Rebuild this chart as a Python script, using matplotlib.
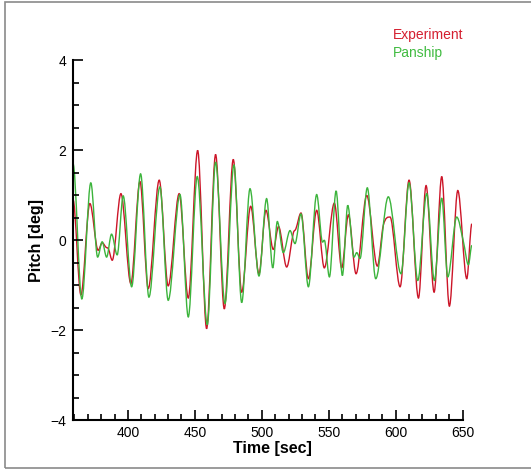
import matplotlib.pyplot as plt
from matplotlib.patches import Rectangle, PathPatch
from matplotlib.path import Path
from matplotlib.ticker import MultipleLocator

plt.rcParams['font.family'] = ['Liberation Sans', 'DejaVu Sans']

exp_t = [359.0, 364.9, 371.6, 377.8, 380.8, 383.6, 385.5, 388.3, 394.8, 402.2,
         409.0, 415.2, 423.4, 430.1, 438.3, 445.1, 452.1, 458.8, 465.5, 472.0,
         478.7, 485.0, 491.7, 497.9, 503.1, 508.6, 512.5, 518.6, 523.5, 525.5,
         529.3, 534.8, 541.0, 546.7, 554.2, 559.7, 564.7, 570.4, 578.4,
         586.3, 590.8, 595.8, 603.3, 610.0, 617.0, 622.7, 628.7, 634.4,
         640.1, 646.4, 653.1, 656.9]
exp_v = [0.9, -1.22, 0.81, -0.23, -0.06, -0.16, -0.20, -0.45, 1.03, -0.97,
         1.30, -1.08, 1.33, -1.02, 1.03, -1.29, 1.99, -1.97, 1.90, -1.53,
         1.79, -1.16, 0.75, -0.75, 0.66, -0.21, 0.30, -0.60, 0.15, 0.25,
         0.60, -0.86, 0.66, -0.62, 0.82, -0.62, 0.56, -0.75, 0.99,
         -0.58, 0.33, 0.51, -1.04, 1.33, -1.29, 1.21, -1.16, 1.41,
         -1.47, 1.10, -0.86, 0.36]

pan_t = [359.0, 365.6, 372.3, 377.4, 380.8, 384.1, 387.8, 392.0, 396.5, 402.8,
         409.5, 415.7, 423.9, 430.1, 438.9, 445.1, 451.8, 459.3, 465.5, 472.5,
         479.2, 485.0, 491.2, 497.9, 503.6, 508.2, 511.6, 516.1, 521.1, 524.8,
         529.3, 534.8, 541.0, 544.8, 547.2, 550.5, 555.5, 560.2, 564.2, 568.9,
         570.9, 573.4, 578.8, 585.1, 594.5, 604.0, 610.0, 616.5, 623.2, 628.9,
         634.4, 638.9, 645.6, 650.6, 654.3, 656.9]
pan_v = [1.7, -1.31, 1.27, -0.38, -0.04, -0.38, 0.13, -0.33, 0.98, -1.04,
         1.47, -1.27, 1.18, -1.34, 1.01, -1.71, 1.41, -1.88, 1.73, -1.41,
         1.67, -1.39, 1.14, -0.80, 0.92, -0.62, 0.41, -0.28, 0.21, -0.08,
         0.58, -1.04, 1.01, 0.0, -0.04, -0.82, 1.09, -0.79, 0.77, -0.38,
         -0.28, -0.41, 1.16, -0.86, 0.96, -0.75, 1.27, -0.90, 1.03, -0.90,
         0.93, -0.82, 0.51, -0.04, -0.55, -0.12]

red = '#cc1528'
green = '#3cb43c'


#draw a smooth curve through the read points (flat at peaks/troughs)
def smooth_path(t, v):
    n = len(t)
    slopes = []
    for i in range(n):
        if i == 0 or i == n - 1:
            slopes.append(0.0)
        elif (v[i] - v[i-1]) * (v[i+1] - v[i]) <= 0:
            slopes.append(0.0)
        else:
            slopes.append((v[i+1] - v[i-1]) / (t[i+1] - t[i-1]))
    verts = [(t[0], v[0])]
    codes = [Path.MOVETO]
    for i in range(n - 1):
        h = t[i+1] - t[i]
        verts += [(t[i] + h/3, v[i] + slopes[i]*h/3),
                  (t[i+1] - h/3, v[i+1] - slopes[i+1]*h/3),
                  (t[i+1], v[i+1])]
        codes += [Path.CURVE4]*3
    return Path(verts, codes)


fig = plt.figure(figsize=(5.31, 4.71), dpi=100)
ax = fig.add_axes([73/531, 51/471, (472 - 73)/531, 360/471])

ax.add_patch(PathPatch(smooth_path(exp_t, exp_v), fill=False, edgecolor=red, lw=1.0))
ax.add_patch(PathPatch(smooth_path(pan_t, pan_v), fill=False, edgecolor=green, lw=1.0))

ax.set_xlim(359, 657)
ax.set_ylim(-4, 4)

#tecplot style frame: only left/bottom, bottom stops at 650
ax.spines['top'].set_visible(False)
ax.spines['right'].set_visible(False)
ax.spines['bottom'].set_bounds(359, 650)
ax.spines['left'].set_linewidth(1.5)
ax.spines['bottom'].set_linewidth(1.5)

ax.xaxis.set_minor_locator(MultipleLocator(10))
ax.yaxis.set_major_locator(MultipleLocator(2))
ax.yaxis.set_minor_locator(MultipleLocator(0.5))
ax.set_xticks([400, 450, 500, 550, 600, 650])
ax.tick_params(which='both', direction='in', width=1.2)
ax.tick_params(which='major', length=7, labelsize=10, pad=4)
ax.tick_params(which='minor', length=4)
ax.tick_params(axis='y', which='major', pad=5)

ax.set_xlabel('Time [sec]', fontsize=11.5, fontweight='bold', labelpad=1)
ax.set_ylabel('Pitch [deg]', fontsize=11.5, fontweight='bold', labelpad=4)

fig.text(393/531, 1 - 35/471, 'Experiment', color='#d42030', fontsize=10, va='center')
fig.text(393/531, 1 - 53/471, 'Panship', color='#40bb40', fontsize=10, va='center')

#outer frame
fig.patches.append(Rectangle((5/531, 3/471), 1.2, 466/471, transform=fig.transFigure,
                             fill=False, edgecolor='#8a8a8a', lw=1.2))

fig.savefig('out.png', dpi=100)
